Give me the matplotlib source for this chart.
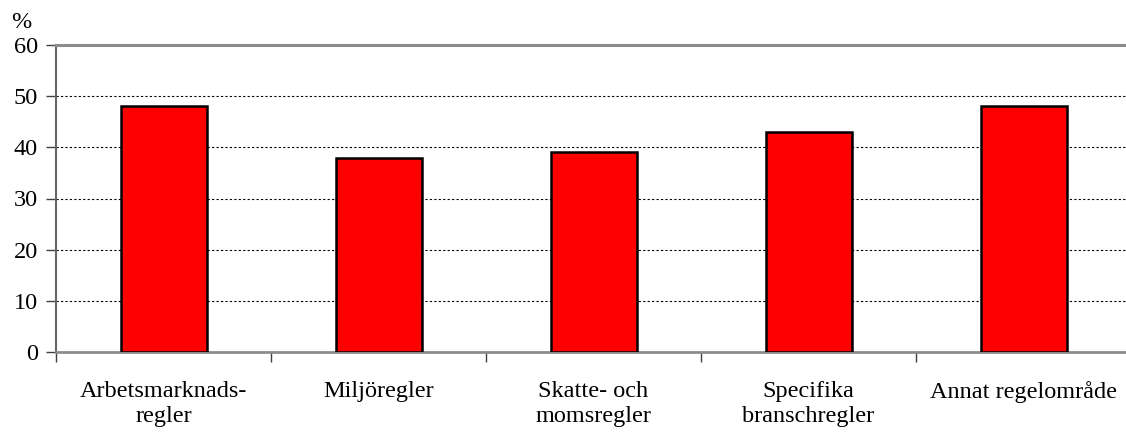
import numpy as np
import matplotlib.pyplot as plt

categories = ["Arbetsmarknads-\nregler", "Miljöregler", "Skatte- och\nmomsregler",
              "Specifika\nbranschregler", "Annat regelområde"]
values = [48, 38, 39, 43, 48]
yticks = [0, 10, 20, 30, 40, 50, 60]

plt.rcParams["font.family"] = ["Liberation Serif", "DejaVu Serif"]

W, H = 1126, 434
FS = 17.5
fig = plt.figure(figsize=(W / 100, H / 100), dpi=100)
ax = fig.add_axes([56 / W, (H - 352) / H, (1131 - 56) / W, (352 - 45) / H])

x = np.arange(len(categories)) + 0.5
ax.bar(x, values, width=0.4, color="#ff0000", edgecolor="black", linewidth=1.8, zorder=3)

ax.set_xlim(0, len(categories))
ax.set_ylim(0, 60)
ax.set_yticks(yticks)
ax.tick_params(axis="y", labelsize=FS, length=7, width=1, color="#404040", pad=6)

for y in yticks[1:-1]:
    ax.axhline(y, color="black", linestyle=(0, (2, 2)), linewidth=0.8, zorder=1)

ax.set_xticks(np.arange(len(categories) + 1))
ax.set_xticklabels([])
ax.tick_params(axis="x", which="major", length=7, width=1, color="#404040")
ax.set_xticks(x, minor=True)
ax.set_xticklabels(categories, minor=True, fontsize=FS, linespacing=1.25)
ax.tick_params(axis="x", which="minor", length=0, pad=21)

ax.spines["top"].set_color("#8c8c8c")
ax.spines["top"].set_linewidth(2.2)
ax.spines["bottom"].set_color("#8c8c8c")
ax.spines["bottom"].set_linewidth(2)
ax.spines["left"].set_color("#666666")
ax.spines["left"].set_linewidth(1.5)
ax.spines["right"].set_visible(False)

fig.text(11 / W, 1 - 22 / H, "%", fontsize=FS, va="center", ha="left")

fig.savefig("out.png", dpi=100)
